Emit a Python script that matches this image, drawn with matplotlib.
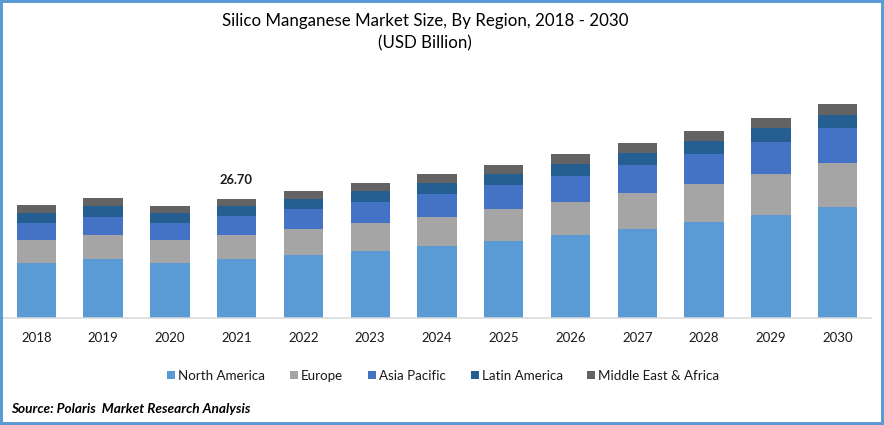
import matplotlib
import matplotlib.pyplot as plt
from matplotlib.patches import Rectangle
matplotlib.use('Agg')

plt.rcParams['font.family'] = ['Lato', 'DejaVu Sans']

years = ['2018', '2019', '2020', '2021', '2022', '2023', '2024', '2025', '2026', '2027', '2028', '2029', '2030']
north_america = [12.34, 13.24, 12.34, 13.24, 14.14, 15.03, 16.15, 17.28, 18.62, 19.97, 21.54, 23.11, 24.91]
europe = [5.16, 5.38, 5.16, 5.38, 5.83, 6.28, 6.51, 7.18, 7.40, 8.08, 8.53, 9.20, 9.87]
asia_pacific = [3.81, 4.04, 3.81, 4.26, 4.49, 4.71, 5.16, 5.38, 5.83, 6.28, 6.73, 7.18, 7.85]
latin_america = [2.24, 2.47, 2.24, 2.24, 2.24, 2.47, 2.47, 2.47, 2.69, 2.69, 2.92, 3.14, 2.92]
middle_east = [1.80, 1.80, 1.57, 1.58, 1.80, 1.80, 2.02, 2.02, 2.24, 2.24, 2.24, 2.24, 2.47]

series = [
    ('North America', north_america, '#5B9BD5'),
    ('Europe', europe, '#A5A5A5'),
    ('Asia Pacific', asia_pacific, '#4472C4'),
    ('Latin America', latin_america, '#255E91'),
    ('Middle East & Africa', middle_east, '#636363'),
]

fig = plt.figure(figsize=(8.84, 4.25), dpi=100)
ax = fig.add_axes([3 / 884, 107 / 425, 868 / 884, 228 / 425])

bottom = [0] * len(years)
for name, values, color in series:
    ax.bar(range(len(years)), values, bottom=bottom, width=0.59, color=color, label=name)
    bottom = [b + v for b, v in zip(bottom, values)]

ax.set_xlim(-0.5, 12.5)
ax.set_ylim(0, 51.16)
ax.set_yticks([])
ax.set_xticks(range(len(years)))
ax.set_xticklabels(years, fontsize=9.5, color='#1a1a1a')
ax.tick_params(axis='x', length=0, pad=10)
for side in ['top', 'left', 'right']:
    ax.spines[side].set_visible(False)
ax.spines['bottom'].set_color('#D9D9D9')
ax.spines['bottom'].set_linewidth(1.1)

# only 2021 carries a value label
idx = years.index('2021')
ax.annotate('26.70', (idx, bottom[idx]), xytext=(-0.7, 14), textcoords='offset points',
            ha='center', va='center', fontsize=9.3, fontweight='bold', color='#1a1a1a')

fig.text(425 / 884, 1 - 21 / 425, 'Silico Manganese Market Size, By Region, 2018 - 2030',
         ha='center', va='center', fontsize=12.2, color='black')
fig.text(425 / 884, 1 - 43 / 425, '(USD Billion)', ha='center', va='center', fontsize=12.2, color='black')

fig.legend(loc='center', bbox_to_anchor=(443.5 / 884, 1 - 375.5 / 425), ncol=5, frameon=False,
           fontsize=9.6, handlelength=0.6, handleheight=0.6, handletextpad=0.23,
           columnspacing=1.85, labelcolor='#1a1a1a')

fig.text(11 / 884, 1 - 409 / 425, 'Source: Polaris  Market Research Analysis', ha='left', va='center',
         fontsize=9.8, fontweight='bold', style='italic', color='black')

fig.add_artist(Rectangle((0, 0), 1, 1, transform=fig.transFigure, fill=False, ec='#5B9BD5', lw=4.3))

fig.savefig('out.png', dpi=100)
